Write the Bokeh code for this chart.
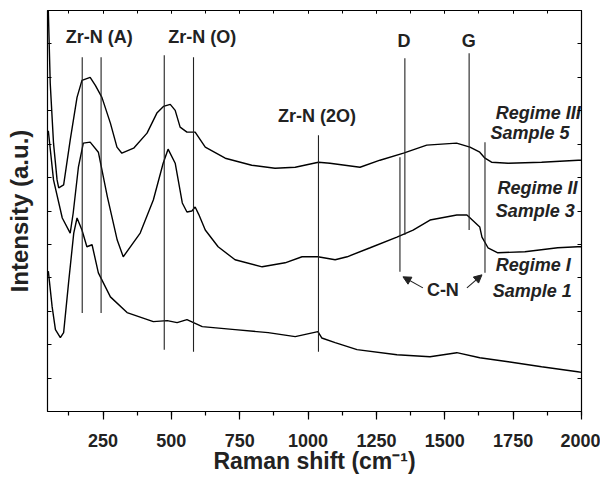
from bokeh.plotting import figure
from bokeh.models import (Range1d, LinearAxis, SingleIntervalTicker, FixedTicker,
                          Arrow, NormalHead, ColumnDataSource)
from bokeh.core.properties import value
from bokeh.embed import file_html
from bokeh.resources import INLINE

# ---------------- data ----------------
# Regime III, Sample 5 (top spectrum), offset intensity in tick units
s5_x = [50, 57, 69, 82, 88, 106, 130, 155, 173, 203, 222, 246, 277, 301, 319, 362,
        411, 447, 471, 496, 514, 532, 557, 587, 624, 697, 794, 879, 953, 1038, 1080,
        1190, 1263, 1349, 1434, 1543, 1592, 1628, 1647, 1671, 1732, 1854, 1988, 2000]
s5_y = [12.0, 9.82, 8.03, 6.93, 6.69, 6.78, 8.12, 9.40, 9.91, 10.0, 9.76, 9.40, 8.63,
        7.91, 7.73, 7.88, 8.33, 8.93, 9.13, 9.19, 9.01, 8.51, 8.36, 8.36, 7.91, 7.58,
        7.37, 7.28, 7.31, 7.46, 7.43, 7.31, 7.52, 7.73, 7.97, 8.03, 7.91, 7.76, 7.58,
        7.46, 7.43, 7.46, 7.52, 7.52]

# Regime II, Sample 3 (middle spectrum)
s3_x = [50, 69, 101, 130, 141, 160, 178, 203, 233, 266, 302, 324, 386, 434, 470, 488,
        514, 540, 557, 575, 587, 600, 624, 671, 733, 832, 916, 978, 1036, 1099, 1143,
        1227, 1325, 1384, 1446, 1544, 1581, 1628, 1636, 1658, 1694, 1793, 1913, 1986, 2000]
s3_y = [8.4, 6.93, 5.79, 5.34, 5.94, 7.31, 8.03, 8.06, 7.76, 6.42, 5.13, 4.63, 5.34,
        6.33, 7.43, 7.85, 7.43, 6.24, 5.97, 6.0, 6.12, 5.9, 5.43, 4.93, 4.54, 4.33,
        4.45, 4.63, 4.63, 4.54, 4.63, 4.90, 5.22, 5.43, 5.73, 5.88, 5.88, 5.52, 5.22,
        4.90, 4.75, 4.78, 4.90, 4.93, 4.93]

# Regime I, Sample 1 (bottom spectrum)
s1_x = [50, 64, 76, 94, 106, 124, 143, 155, 173, 191, 210, 233, 277, 338, 434, 485,
        521, 557, 613, 733, 854, 953, 1036, 1050, 1099, 1179, 1325, 1446, 1544, 1628,
        1732, 1854, 1986, 2000]
s1_y = [4.2, 3.13, 2.45, 2.21, 2.36, 3.85, 5.34, 5.79, 5.43, 4.93, 4.99, 4.15, 3.43,
        2.96, 2.69, 2.72, 2.66, 2.75, 2.54, 2.45, 2.36, 2.24, 2.39, 2.2, 2.06, 1.85,
        1.70, 1.64, 1.76, 1.61, 1.49, 1.34, 1.19, 1.17]

# band marker lines
peak_x = [174, 243, 474, 581, 1038, 1354, 1589, 1336, 1647]
peak_y0 = [2.95, 2.95, 1.85, 1.79, 1.79, 5.28, 5.43, 4.18, 4.15]
peak_y1 = [10.6, 10.6, 10.66, 10.6, 8.27, 10.57, 10.72, 7.61, 8.06]

# band labels
band_text = ["Zr-N (A)", "Zr-N (O)", "Zr-N (2O)", "D", "G", "C-N"]
band_x = [236, 613, 1033, 1351, 1588, 1493]
band_y = [11.2, 11.2, 8.85, 11.1, 11.1, 3.64]

# C-N arrows (start -> end)
arrow_x0 = [1420, 1581]
arrow_y0 = [3.70, 3.70]
arrow_x1 = [1347, 1636]
arrow_y1 = [4.03, 4.09]

# sample labels
sample_text = ["Regime III", "Sample 5", "Regime II", "Sample 3", "Regime I", "Sample 1"]
sample_x = [1686, 1667, 1693, 1686, 1686, 1675]
sample_y = [8.93, 8.34, 6.70, 6.01, 4.37, 3.61]

x_tick_labels = ["250", "500", "750", "1000", "1250", "1500", "1750", "2000"]
y_ticks = list(range(13))

FONT = "Liberation Sans"

# ---------------- figure ----------------
p = figure(width=600, height=476, x_range=Range1d(47, 2000), y_range=Range1d(0, 12),
           output_backend="svg", toolbar_location=None,
           min_border_left=47, min_border_right=19, min_border_top=10, min_border_bottom=64)
p.grid.visible = False
p.outline_line_color = "black"
p.outline_line_width = 1.2
p.background_fill_color = "white"
p.border_fill_color = "white"

xa = p.xaxis[0]
xa.ticker = SingleIntervalTicker(interval=250, num_minor_ticks=2)
xa.major_label_overrides = {250 * (i + 1): t for i, t in enumerate(x_tick_labels)}
xa.major_tick_out = 8
xa.major_tick_in = 0
xa.minor_tick_out = 4
xa.minor_tick_in = 0
xa.major_tick_line_width = 1.2
xa.minor_tick_line_width = 1.2
xa.axis_line_color = None
xa.major_label_text_font = FONT
xa.major_label_text_font_style = "bold"
xa.major_label_text_font_size = "18px"
xa.major_label_text_color = "#222222"
xa.major_label_standoff = 14
xa.axis_label = "Raman shift (cm\u207b\u00b9)"
xa.axis_label_text_font = FONT
xa.axis_label_text_font_style = "bold"
xa.axis_label_text_font_size = "23px"
xa.axis_label_text_color = "#222222"
xa.axis_label_standoff = -2

empty_x = {250 * i: "" for i in range(9)}
top = LinearAxis(ticker=SingleIntervalTicker(interval=250, num_minor_ticks=2),
                 major_tick_in=3, major_tick_out=0, minor_tick_in=3, minor_tick_out=0,
                 major_label_overrides=empty_x, major_label_text_font_size="1px",
                 major_label_standoff=0, axis_line_color=None)
p.add_layout(top, "above")

empty_y = {t: "" for t in y_ticks}
ya = p.yaxis[0]
ya.ticker = FixedTicker(ticks=y_ticks)
ya.major_tick_in = 4
ya.major_tick_out = 0
ya.minor_tick_in = 0
ya.minor_tick_out = 0
ya.axis_line_color = None
ya.major_label_overrides = empty_y
ya.major_label_text_font_size = "1px"
ya.major_label_standoff = 0
ya.axis_label = "Intensity (a.u.)"
ya.axis_label_text_font = FONT
ya.axis_label_text_font_style = "bold"
ya.axis_label_text_font_size = "24px"
ya.axis_label_text_color = "#222222"
ya.axis_label_standoff = 15

right = LinearAxis(ticker=FixedTicker(ticks=y_ticks),
                   major_tick_in=4, major_tick_out=0, minor_tick_in=0, minor_tick_out=0,
                   major_label_overrides=empty_y, major_label_text_font_size="1px",
                   major_label_standoff=0, axis_line_color=None)
p.add_layout(right, "right")

# spectra
for xs, ys in [(s5_x, s5_y), (s3_x, s3_y), (s1_x, s1_y)]:
    p.line(xs, ys, line_color="black", line_width=1.4)

# band marker lines
p.segment(x0=peak_x, y0=peak_y0, x1=peak_x, y1=peak_y1, line_color="#222222", line_width=1.1)

# band labels
p.text(x=band_x, y=band_y, text=band_text, text_font=value(FONT), text_font_style="bold",
       text_font_size="18px", text_align="center", text_baseline="middle", text_color="#222222")

# sample labels
p.text(x=sample_x, y=sample_y, text=sample_text, text_font=value(FONT),
       text_font_style="bold italic", text_font_size="18px", text_align="left",
       text_baseline="middle", text_color="#222222")

# C-N arrows
asrc = ColumnDataSource(dict(x0=arrow_x0, y0=arrow_y0, x1=arrow_x1, y1=arrow_y1))
p.add_layout(Arrow(end=NormalHead(size=8, fill_color="#222222", line_color="#222222"),
                   x_start="x0", y_start="y0", x_end="x1", y_end="y1", source=asrc,
                   line_color="#222222", line_width=1.1))

open("out.html", "w").write(file_html(p, INLINE))
